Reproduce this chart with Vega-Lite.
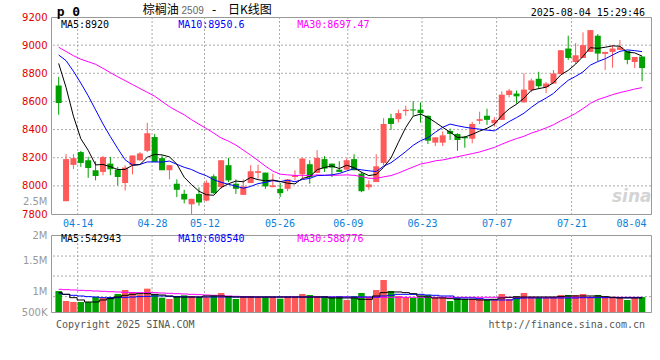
{
  "$schema": "https://vega.github.io/schema/vega-lite/v6.json",
  "background": "white",
  "padding": {"left": 20, "top": 3, "right": 0, "bottom": 0},
  "bounds": "flush",
  "spacing": 21,
  "config": {
    "view": {"stroke": "#999999", "strokeWidth": 1},
    "axis": {"domain": false, "ticks": false, "grid": false}
  },
  "datasets": {
    "kd": [
      {"d":"04-09","k":0,"o":8713,"h":8775,"l":8505,"c":8589,"v":909000,"m5":8870,"m10":8930,"m30":8985,"vm5":877000,"vm10":857000,"vm30":942000},
      {"d":"04-10","k":1,"o":7891,"h":8225,"l":7891,"c":8190,"v":714000,"m5":8700,"m10":8890,"m30":8955,"vm5":844000,"vm10":844000,"vm30":935000},
      {"d":"04-11","k":2,"o":8149,"h":8225,"l":8120,"c":8197,"v":695000,"m5":8495,"m10":8815,"m30":8925,"vm5":779000,"vm10":825000,"vm30":929000},
      {"d":"04-14","k":3,"o":8240,"h":8249,"l":8135,"c":8163,"v":695000,"m5":8335,"m10":8730,"m30":8900,"vm5":734000,"vm10":812000,"vm30":922000},
      {"d":"04-15","k":4,"o":8182,"h":8206,"l":8056,"c":8127,"v":695000,"m5":8253,"m10":8640,"m30":8882,"vm5":695000,"vm10":799000,"vm30":916000},
      {"d":"04-16","k":5,"o":8111,"h":8175,"l":8039,"c":8070,"v":792000,"m5":8149,"m10":8540,"m30":8864,"vm5":695000,"vm10":792000,"vm30":909000},
      {"d":"04-17","k":6,"o":8099,"h":8213,"l":8075,"c":8204,"v":779000,"m5":8152,"m10":8440,"m30":8835,"vm5":734000,"vm10":779000,"vm30":903000},
      {"d":"04-18","k":7,"o":8158,"h":8206,"l":8075,"c":8118,"v":792000,"m5":8136,"m10":8350,"m30":8805,"vm5":760000,"vm10":779000,"vm30":896000},
      {"d":"04-21","k":8,"o":8115,"h":8135,"l":8003,"c":8063,"v":851000,"m5":8116,"m10":8265,"m30":8775,"vm5":792000,"vm10":779000,"vm30":890000},
      {"d":"04-22","k":9,"o":8020,"h":8147,"l":7967,"c":8130,"v":929000,"m5":8117,"m10":8185,"m30":8748,"vm5":825000,"vm10":786000,"vm30":883000},
      {"d":"04-23","k":10,"o":8147,"h":8216,"l":8082,"c":8216,"v":890000,"m5":8146,"m10":8148,"m30":8720,"vm5":844000,"vm10":792000,"vm30":877000},
      {"d":"04-24","k":11,"o":8182,"h":8240,"l":8178,"c":8230,"v":844000,"m5":8151,"m10":8152,"m30":8692,"vm5":857000,"vm10":799000,"vm30":877000},
      {"d":"04-25","k":12,"o":8249,"h":8448,"l":8240,"c":8374,"v":955000,"m5":8203,"m10":8170,"m30":8665,"vm5":857000,"vm10":805000,"vm30":877000},
      {"d":"04-28","k":13,"o":8347,"h":8369,"l":8170,"c":8170,"v":844000,"m5":8224,"m10":8170,"m30":8637,"vm5":844000,"vm10":812000,"vm30":877000},
      {"d":"04-29","k":14,"o":8197,"h":8216,"l":8111,"c":8111,"v":779000,"m5":8220,"m10":8169,"m30":8600,"vm5":831000,"vm10":812000,"vm30":870000},
      {"d":"04-30","k":15,"o":8111,"h":8147,"l":8046,"c":8147,"v":753000,"m5":8206,"m10":8176,"m30":8563,"vm5":812000,"vm10":805000,"vm30":864000},
      {"d":"05-06","k":16,"o":8015,"h":8046,"l":7920,"c":7972,"v":812000,"m5":8155,"m10":8153,"m30":8533,"vm5":792000,"vm10":799000,"vm30":857000},
      {"d":"05-07","k":17,"o":7943,"h":7972,"l":7876,"c":7903,"v":825000,"m5":8061,"m10":8132,"m30":8505,"vm5":792000,"vm10":792000,"vm30":851000},
      {"d":"05-08","k":18,"o":7869,"h":7908,"l":7800,"c":7908,"v":812000,"m5":8008,"m10":8116,"m30":8470,"vm5":792000,"vm10":792000,"vm30":844000},
      {"d":"05-09","k":19,"o":7942,"h":7989,"l":7859,"c":7882,"v":792000,"m5":7962,"m10":8091,"m30":8438,"vm5":792000,"vm10":792000,"vm30":838000},
      {"d":"05-12","k":20,"o":7895,"h":8040,"l":7890,"c":8022,"v":792000,"m5":7937,"m10":8072,"m30":8408,"vm5":812000,"vm10":792000,"vm30":831000},
      {"d":"05-13","k":21,"o":8068,"h":8082,"l":7943,"c":7948,"v":831000,"m5":7933,"m10":8044,"m30":8375,"vm5":812000,"vm10":792000,"vm30":825000},
      {"d":"05-14","k":22,"o":7991,"h":8182,"l":7979,"c":8182,"v":870000,"m5":7988,"m10":8025,"m30":8340,"vm5":812000,"vm10":792000,"vm30":818000},
      {"d":"05-15","k":23,"o":8147,"h":8199,"l":8027,"c":8039,"v":792000,"m5":8015,"m10":8011,"m30":8318,"vm5":799000,"vm10":792000,"vm30":812000},
      {"d":"05-16","k":24,"o":8015,"h":8046,"l":7943,"c":7979,"v":753000,"m5":8034,"m10":7998,"m30":8290,"vm5":792000,"vm10":792000,"vm30":805000},
      {"d":"05-19","k":25,"o":7936,"h":8046,"l":7936,"c":7996,"v":792000,"m5":8029,"m10":7983,"m30":8254,"vm5":792000,"vm10":792000,"vm30":799000},
      {"d":"05-20","k":26,"o":8020,"h":8147,"l":8020,"c":8104,"v":812000,"m5":8060,"m10":7996,"m30":8218,"vm5":792000,"vm10":792000,"vm30":792000},
      {"d":"05-21","k":27,"o":8092,"h":8151,"l":8051,"c":8104,"v":792000,"m5":8044,"m10":8016,"m30":8180,"vm5":792000,"vm10":792000,"vm30":792000},
      {"d":"05-22","k":28,"o":8094,"h":8094,"l":7979,"c":7996,"v":792000,"m5":8036,"m10":8025,"m30":8140,"vm5":792000,"vm10":792000,"vm30":792000},
      {"d":"05-23","k":29,"o":7991,"h":8087,"l":7991,"c":8003,"v":792000,"m5":8041,"m10":8037,"m30":8105,"vm5":792000,"vm10":792000,"vm30":792000},
      {"d":"05-26","k":30,"o":7979,"h":8020,"l":7920,"c":7948,"v":760000,"m5":8031,"m10":8030,"m30":8083,"vm5":792000,"vm10":792000,"vm30":792000},
      {"d":"05-27","k":31,"o":7979,"h":8046,"l":7962,"c":8046,"v":792000,"m5":8019,"m10":8040,"m30":8078,"vm5":792000,"vm10":792000,"vm30":792000},
      {"d":"05-28","k":32,"o":8063,"h":8111,"l":8039,"c":8075,"v":792000,"m5":8014,"m10":8029,"m30":8074,"vm5":792000,"vm10":792000,"vm30":792000},
      {"d":"05-29","k":33,"o":8082,"h":8199,"l":8051,"c":8194,"v":851000,"m5":8053,"m10":8045,"m30":8075,"vm5":792000,"vm10":792000,"vm30":792000},
      {"d":"05-30","k":34,"o":8154,"h":8182,"l":8015,"c":8063,"v":831000,"m5":8065,"m10":8053,"m30":8073,"vm5":792000,"vm10":792000,"vm30":792000},
      {"d":"06-03","k":35,"o":8092,"h":8254,"l":8092,"c":8199,"v":812000,"m5":8115,"m10":8073,"m30":8078,"vm5":792000,"vm10":792000,"vm30":792000},
      {"d":"06-04","k":36,"o":8190,"h":8211,"l":8099,"c":8123,"v":812000,"m5":8131,"m10":8075,"m30":8075,"vm5":792000,"vm10":792000,"vm30":792000},
      {"d":"06-05","k":37,"o":8158,"h":8158,"l":8063,"c":8130,"v":792000,"m5":8142,"m10":8078,"m30":8075,"vm5":773000,"vm10":792000,"vm30":792000},
      {"d":"06-06","k":38,"o":8115,"h":8175,"l":8099,"c":8099,"v":812000,"m5":8123,"m10":8088,"m30":8076,"vm5":773000,"vm10":792000,"vm30":792000},
      {"d":"06-09","k":39,"o":8115,"h":8194,"l":8115,"c":8182,"v":734000,"m5":8147,"m10":8106,"m30":8078,"vm5":773000,"vm10":792000,"vm30":792000},
      {"d":"06-10","k":40,"o":8190,"h":8225,"l":8111,"c":8111,"v":812000,"m5":8129,"m10":8122,"m30":8075,"vm5":773000,"vm10":792000,"vm30":786000},
      {"d":"06-11","k":41,"o":8087,"h":8099,"l":7955,"c":7962,"v":870000,"m5":8097,"m10":8114,"m30":8066,"vm5":747000,"vm10":792000,"vm30":786000},
      {"d":"06-12","k":42,"o":7991,"h":8039,"l":7972,"c":8010,"v":792000,"m5":8073,"m10":8107,"m30":8054,"vm5":747000,"vm10":792000,"vm30":786000},
      {"d":"06-13","k":43,"o":8027,"h":8225,"l":8027,"c":8139,"v":929000,"m5":8081,"m10":8102,"m30":8053,"vm5":812000,"vm10":792000,"vm30":786000},
      {"d":"06-16","k":44,"o":8163,"h":8481,"l":8147,"c":8440,"v":1123000,"m5":8132,"m10":8140,"m30":8064,"vm5":877000,"vm10":812000,"vm30":786000},
      {"d":"06-17","k":45,"o":8481,"h":8512,"l":8398,"c":8440,"v":909000,"m5":8198,"m10":8164,"m30":8073,"vm5":890000,"vm10":825000,"vm30":786000},
      {"d":"06-18","k":46,"o":8474,"h":8541,"l":8450,"c":8517,"v":812000,"m5":8309,"m10":8203,"m30":8091,"vm5":890000,"vm10":844000,"vm30":786000},
      {"d":"06-19","k":47,"o":8531,"h":8570,"l":8498,"c":8541,"v":792000,"m5":8415,"m10":8244,"m30":8113,"vm5":877000,"vm10":844000,"vm30":786000},
      {"d":"06-20","k":48,"o":8543,"h":8601,"l":8498,"c":8536,"v":773000,"m5":8495,"m10":8288,"m30":8134,"vm5":857000,"vm10":844000,"vm30":786000},
      {"d":"06-23","k":49,"o":8541,"h":8593,"l":8450,"c":8517,"v":812000,"m5":8510,"m10":8321,"m30":8155,"vm5":812000,"vm10":844000,"vm30":786000},
      {"d":"06-24","k":50,"o":8498,"h":8500,"l":8297,"c":8321,"v":831000,"m5":8486,"m10":8342,"m30":8165,"vm5":792000,"vm10":831000,"vm30":786000},
      {"d":"06-25","k":51,"o":8307,"h":8345,"l":8283,"c":8345,"v":773000,"m5":8452,"m10":8381,"m30":8178,"vm5":773000,"vm10":825000,"vm30":786000},
      {"d":"06-26","k":52,"o":8307,"h":8386,"l":8283,"c":8359,"v":792000,"m5":8416,"m10":8416,"m30":8184,"vm5":773000,"vm10":812000,"vm30":786000},
      {"d":"06-27","k":53,"o":8390,"h":8407,"l":8326,"c":8369,"v":714000,"m5":8382,"m10":8439,"m30":8195,"vm5":760000,"vm10":812000,"vm30":786000},
      {"d":"06-30","k":54,"o":8369,"h":8374,"l":8249,"c":8326,"v":773000,"m5":8344,"m10":8427,"m30":8207,"vm5":747000,"vm10":773000,"vm30":786000},
      {"d":"07-01","k":55,"o":8347,"h":8354,"l":8271,"c":8338,"v":753000,"m5":8347,"m10":8417,"m30":8218,"vm5":747000,"vm10":773000,"vm30":786000},
      {"d":"07-02","k":56,"o":8335,"h":8455,"l":8302,"c":8440,"v":753000,"m5":8366,"m10":8409,"m30":8229,"vm5":747000,"vm10":773000,"vm30":786000},
      {"d":"07-03","k":57,"o":8462,"h":8527,"l":8440,"c":8474,"v":753000,"m5":8389,"m10":8403,"m30":8241,"vm5":734000,"vm10":760000,"vm30":786000},
      {"d":"07-04","k":58,"o":8498,"h":8548,"l":8433,"c":8469,"v":734000,"m5":8409,"m10":8396,"m30":8257,"vm5":734000,"vm10":747000,"vm30":786000},
      {"d":"07-07","k":59,"o":8445,"h":8488,"l":8421,"c":8469,"v":734000,"m5":8438,"m10":8391,"m30":8273,"vm5":747000,"vm10":734000,"vm30":786000},
      {"d":"07-08","k":60,"o":8469,"h":8672,"l":8469,"c":8648,"v":851000,"m5":8500,"m10":8424,"m30":8296,"vm5":773000,"vm10":734000,"vm30":786000},
      {"d":"07-09","k":61,"o":8646,"h":8689,"l":8629,"c":8677,"v":753000,"m5":8547,"m10":8457,"m30":8317,"vm5":786000,"vm10":734000,"vm30":786000},
      {"d":"07-10","k":62,"o":8656,"h":8677,"l":8584,"c":8636,"v":812000,"m5":8580,"m10":8485,"m30":8336,"vm5":792000,"vm10":760000,"vm30":786000},
      {"d":"07-11","k":63,"o":8593,"h":8799,"l":8593,"c":8684,"v":870000,"m5":8623,"m10":8516,"m30":8352,"vm5":792000,"vm10":773000,"vm30":786000},
      {"d":"07-14","k":64,"o":8680,"h":8763,"l":8665,"c":8749,"v":792000,"m5":8679,"m10":8558,"m30":8375,"vm5":792000,"vm10":773000,"vm30":786000},
      {"d":"07-15","k":65,"o":8761,"h":8811,"l":8689,"c":8708,"v":773000,"m5":8691,"m10":8595,"m30":8392,"vm5":792000,"vm10":773000,"vm30":786000},
      {"d":"07-16","k":66,"o":8701,"h":8737,"l":8660,"c":8727,"v":773000,"m5":8701,"m10":8624,"m30":8412,"vm5":792000,"vm10":773000,"vm30":786000},
      {"d":"07-17","k":67,"o":8727,"h":8823,"l":8727,"c":8799,"v":792000,"m5":8733,"m10":8657,"m30":8434,"vm5":792000,"vm10":773000,"vm30":786000},
      {"d":"07-18","k":68,"o":8794,"h":8964,"l":8794,"c":8964,"v":831000,"m5":8789,"m10":8706,"m30":8463,"vm5":799000,"vm10":773000,"vm30":786000},
      {"d":"07-21","k":69,"o":8976,"h":9067,"l":8895,"c":8909,"v":831000,"m5":8821,"m10":8750,"m30":8487,"vm5":812000,"vm10":773000,"vm30":786000},
      {"d":"07-22","k":70,"o":8880,"h":9014,"l":8868,"c":8928,"v":831000,"m5":8865,"m10":8778,"m30":8515,"vm5":812000,"vm10":773000,"vm30":786000},
      {"d":"07-23","k":71,"o":8909,"h":9091,"l":8909,"c":9000,"v":851000,"m5":8920,"m10":8810,"m30":8549,"vm5":812000,"vm10":779000,"vm30":786000},
      {"d":"07-24","k":72,"o":8952,"h":9107,"l":8952,"c":9107,"v":792000,"m5":8982,"m10":8858,"m30":8586,"vm5":812000,"vm10":779000,"vm30":786000},
      {"d":"07-25","k":73,"o":9067,"h":9079,"l":8887,"c":8940,"v":831000,"m5":8977,"m10":8883,"m30":8613,"vm5":812000,"vm10":779000,"vm30":786000},
      {"d":"07-28","k":74,"o":8938,"h":8952,"l":8823,"c":8952,"v":792000,"m5":8985,"m10":8903,"m30":8630,"vm5":799000,"vm10":779000,"vm30":786000},
      {"d":"07-29","k":75,"o":8952,"h":9000,"l":8840,"c":8976,"v":792000,"m5":8995,"m10":8930,"m30":8648,"vm5":786000,"vm10":779000,"vm30":786000},
      {"d":"07-30","k":76,"o":8966,"h":9036,"l":8966,"c":8985,"v":773000,"m5":8992,"m10":8956,"m30":8663,"vm5":773000,"vm10":779000,"vm30":786000},
      {"d":"07-31","k":77,"o":8959,"h":8959,"l":8864,"c":8895,"v":734000,"m5":8950,"m10":8966,"m30":8675,"vm5":773000,"vm10":779000,"vm30":786000},
      {"d":"08-01","k":78,"o":8880,"h":8916,"l":8837,"c":8916,"v":773000,"m5":8945,"m10":8961,"m30":8688,"vm5":773000,"vm10":779000,"vm30":786000},
      {"d":"08-04","k":79,"o":8919,"h":8919,"l":8744,"c":8837,"v":792000,"m5":8922,"m10":8954,"m30":8698,"vm5":773000,"vm10":779000,"vm30":786000}
    ],
    "xg": [{"x": 2.57}, {"x": 12.65}, {"x": 19.75}, {"x": 29.9}, {"x": 39.15}, {"x": 49.2}, {"x": 59.3}, {"x": 69.45}],
    "yg": [{"y": 8000}, {"y": 8200}, {"y": 8400}, {"y": 8600}, {"y": 8800}, {"y": 9000}],
    "vgrid": [{"g": 800000}, {"g": 1200000}, {"g": 1590000}]
  },
  "vconcat": [
    {
      "width": 600,
      "height": 197,
      "resolve": {"axis": {"x": "independent", "y": "independent"}},
      "layer": [
        {
          "data": {"name": "xg"},
          "mark": {"type": "rule", "strokeDash": [2, 2], "color": "#aaaaaa", "strokeWidth": 1},
          "encoding": {
            "x": {"field": "x", "type": "quantitative", "scale": {"domain": [-0.36, 79.53], "nice": false, "zero": false},
              "axis": {"values": [2.57, 12.65, 19.75, 29.9, 39.15, 49.2, 59.3, 69.45, 79.53],
                "labelExpr": "datum.value < 5 ? '04-14' : datum.value < 15 ? '04-28' : datum.value < 25 ? '05-12' : datum.value < 35 ? '05-26' : datum.value < 45 ? '06-09' : datum.value < 55 ? '06-23' : datum.value < 65 ? '07-07' : datum.value < 75 ? '07-21' : '08-04'",
                "labelAlign": {"condition": {"test": "datum.value > 79", "value": "right"}, "value": "center"},
                "title": null, "grid": false, "labelColor": "#0c80d8",
                "labelFont": "DejaVu Sans Mono", "labelFontSize": 10, "labelPadding": 4, "labelOverlap": false, "labelBound": false}}
          }
        },
        {
          "data": {"name": "yg"},
          "mark": {"type": "rule", "strokeDash": [2, 2], "color": "#aaaaaa", "strokeWidth": 1},
          "encoding": {
            "y": {"field": "y", "type": "quantitative", "scale": {"domain": [7800, 9200], "nice": false, "zero": false},
              "axis": {"values": [7800, 7890, 8000, 8200, 8400, 8600, 8800, 9000, 9200], "format": "d",
                "labelExpr": "datum.value == 7890 ? '2.5M' : datum.label",
                "title": null, "grid": false,
                "labelColor": {"condition": {"test": "datum.value == 7890", "value": "#999999"}, "value": "#e00000"},
                "labelFont": "DejaVu Sans", "labelFontSize": 10, "labelPadding": 4, "labelOverlap": false, "labelBound": false}}
          }
        },
        {
          "data": {"name": "kd"},
          "mark": {"type": "rule", "strokeWidth": 1},
          "encoding": {
            "x": {"field": "k", "type": "quantitative", "axis": null},
            "y": {"field": "l", "type": "quantitative", "axis": null},
            "y2": {"field": "h"},
            "color": {"condition": {"test": "datum.c >= datum.o", "value": "#ff5a5a"}, "value": "#00a000"}
          }
        },
        {
          "data": {"name": "kd"},
          "mark": {"type": "bar", "width": 6},
          "encoding": {
            "x": {"field": "k", "type": "quantitative", "axis": null},
            "y": {"field": "o", "type": "quantitative", "axis": null},
            "y2": {"field": "c"},
            "color": {"condition": {"test": "datum.c >= datum.o", "value": "#ff5a5a"}, "value": "#00a000"}
          }
        },
        {
          "data": {"name": "kd"},
          "mark": {"type": "line", "color": "#ff00ff", "strokeWidth": 1},
          "encoding": {"x": {"field": "k", "type": "quantitative", "axis": null}, "y": {"field": "m30", "type": "quantitative", "axis": null}}
        },
        {
          "data": {"name": "kd"},
          "mark": {"type": "line", "color": "#0000ff", "strokeWidth": 1},
          "encoding": {"x": {"field": "k", "type": "quantitative", "axis": null}, "y": {"field": "m10", "type": "quantitative", "axis": null}}
        },
        {
          "data": {"name": "kd"},
          "mark": {"type": "line", "color": "#000000", "strokeWidth": 1},
          "encoding": {"x": {"field": "k", "type": "quantitative", "axis": null}, "y": {"field": "m5", "type": "quantitative", "axis": null}}
        },
        {
          "data": {"values": [{}]},
          "mark": {"type": "text", "text": "MA5:8920", "align": "left", "baseline": "middle", "font": "DejaVu Sans Mono", "fontSize": 10, "color": "#000000"},
          "encoding": {"x": {"datum": 0.31, "type": "quantitative", "axis": null}, "y": {"datum": 9143, "type": "quantitative", "axis": null}}
        },
        {
          "data": {"values": [{}]},
          "mark": {"type": "text", "text": "MA10:8950.6", "align": "left", "baseline": "middle", "font": "DejaVu Sans Mono", "fontSize": 10, "color": "#0000ff"},
          "encoding": {"x": {"datum": 16.19, "type": "quantitative", "axis": null}, "y": {"datum": 9143, "type": "quantitative", "axis": null}}
        },
        {
          "data": {"values": [{}]},
          "mark": {"type": "text", "text": "MA30:8697.47", "align": "left", "baseline": "middle", "font": "DejaVu Sans Mono", "fontSize": 10, "color": "#ff00ff"},
          "encoding": {"x": {"datum": 32.3, "type": "quantitative", "axis": null}, "y": {"datum": 9143, "type": "quantitative", "axis": null}}
        },
        {
          "data": {"values": [{}]},
          "mark": {"type": "text", "text": "p 0", "align": "left", "baseline": "middle", "font": "DejaVu Sans Mono", "fontSize": 13, "fontWeight": "bold", "color": "#000000"},
          "encoding": {"x": {"datum": -0.27, "type": "quantitative", "axis": null}, "y": {"datum": 9236, "type": "quantitative", "axis": null}}
        },
        {
          "data": {"values": [{}]},
          "mark": {"type": "text", "text": "棕榈油", "align": "left", "baseline": "middle", "font": "Noto Sans CJK SC", "fontSize": 12, "color": "#000000"},
          "encoding": {"x": {"datum": 11.4, "type": "quantitative", "axis": null}, "y": {"datum": 9248, "type": "quantitative", "axis": null}}
        },
        {
          "data": {"values": [{}]},
          "mark": {"type": "text", "text": "2509", "align": "left", "baseline": "middle", "font": "Liberation Sans", "fontSize": 10, "color": "#666666"},
          "encoding": {"x": {"datum": 16.64, "type": "quantitative", "axis": null}, "y": {"datum": 9246, "type": "quantitative", "axis": null}}
        },
        {
          "data": {"values": [{}]},
          "mark": {"type": "text", "text": "-", "align": "left", "baseline": "middle", "font": "DejaVu Sans Mono", "fontSize": 12, "color": "#000000"},
          "encoding": {"x": {"datum": 20.55, "type": "quantitative", "axis": null}, "y": {"datum": 9248, "type": "quantitative", "axis": null}}
        },
        {
          "data": {"values": [{}]},
          "mark": {"type": "text", "text": "日K线图", "align": "left", "baseline": "middle", "font": "Noto Sans CJK SC", "fontSize": 12, "color": "#000000"},
          "encoding": {"x": {"datum": 22.94, "type": "quantitative", "axis": null}, "y": {"datum": 9248, "type": "quantitative", "axis": null}}
        },
        {
          "data": {"values": [{}]},
          "mark": {"type": "text", "text": "2025-08-04 15:29:46", "align": "right", "baseline": "middle", "font": "DejaVu Sans Mono", "fontSize": 10, "color": "#000000"},
          "encoding": {"x": {"datum": 79.4, "type": "quantitative", "axis": null}, "y": {"datum": 9226, "type": "quantitative", "axis": null}}
        },
        {
          "data": {"values": [{}]},
          "mark": {"type": "text", "text": "sina", "align": "center", "baseline": "middle", "font": "DejaVu Sans", "fontSize": 17, "fontStyle": "italic", "fontWeight": "bold", "color": "#d4d4d4"},
          "encoding": {"x": {"datum": 77.6, "type": "quantitative", "axis": null}, "y": {"datum": 7918, "type": "quantitative", "axis": null}}
        }
      ]
    },
    {
      "width": 600,
      "height": 77,
      "resolve": {"axis": {"x": "independent", "y": "independent"}},
      "layer": [
        {
          "data": {"name": "xg"},
          "mark": {"type": "rule", "strokeDash": [2, 2], "color": "#aaaaaa", "strokeWidth": 1},
          "encoding": {
            "x": {"field": "x", "type": "quantitative", "scale": {"domain": [-0.36, 79.53], "nice": false, "zero": false}, "axis": null}
          }
        },
        {
          "data": {"name": "vgrid"},
          "mark": {"type": "rule", "strokeDash": [2, 2], "color": "#aaaaaa", "strokeWidth": 1},
          "encoding": {
            "y": {"field": "g", "type": "quantitative", "scale": {"domain": [500000, 2000000], "nice": false, "zero": false},
              "axis": {"values": [500000, 890000, 1500000, 2000000],
                "labelExpr": "datum.value == 500000 ? '500K' : datum.value == 890000 ? '1M' : datum.value == 1500000 ? '1.5M' : '2M'",
                "title": null, "grid": false, "labelColor": "#999999", "labelFont": "DejaVu Sans", "labelFontSize": 10, "labelPadding": 4, "labelOverlap": false, "labelBound": false}}
          }
        },
        {
          "data": {"name": "kd"},
          "mark": {"type": "bar", "width": 6.5},
          "encoding": {
            "x": {"field": "k", "type": "quantitative", "axis": null},
            "y": {"field": "v", "type": "quantitative", "axis": null},
            "y2": {"datum": 500000},
            "color": {"condition": {"test": "datum.c >= datum.o", "value": "#ff5a5a"}, "value": "#00a000"}
          }
        },
        {
          "data": {"name": "kd"},
          "mark": {"type": "line", "color": "#ff00ff", "strokeWidth": 1, "interpolate": "step"},
          "encoding": {"x": {"field": "k", "type": "quantitative", "axis": null}, "y": {"field": "vm30", "type": "quantitative", "axis": null}}
        },
        {
          "data": {"name": "kd"},
          "mark": {"type": "line", "color": "#0000ff", "strokeWidth": 1, "interpolate": "step"},
          "encoding": {"x": {"field": "k", "type": "quantitative", "axis": null}, "y": {"field": "vm10", "type": "quantitative", "axis": null}}
        },
        {
          "data": {"name": "kd"},
          "mark": {"type": "line", "color": "#000000", "strokeWidth": 1, "interpolate": "step"},
          "encoding": {"x": {"field": "k", "type": "quantitative", "axis": null}, "y": {"field": "vm5", "type": "quantitative", "axis": null}}
        },
        {
          "data": {"values": [{}]},
          "mark": {"type": "text", "text": "MA5:542943", "align": "left", "baseline": "middle", "font": "DejaVu Sans Mono", "fontSize": 10, "color": "#000000"},
          "encoding": {"x": {"datum": 0.31, "type": "quantitative", "axis": null}, "y": {"datum": 1916000, "type": "quantitative", "axis": null}}
        },
        {
          "data": {"values": [{}]},
          "mark": {"type": "text", "text": "MA10:608540", "align": "left", "baseline": "middle", "font": "DejaVu Sans Mono", "fontSize": 10, "color": "#0000ff"},
          "encoding": {"x": {"datum": 16.19, "type": "quantitative", "axis": null}, "y": {"datum": 1916000, "type": "quantitative", "axis": null}}
        },
        {
          "data": {"values": [{}]},
          "mark": {"type": "text", "text": "MA30:588776", "align": "left", "baseline": "middle", "font": "DejaVu Sans Mono", "fontSize": 10, "color": "#ff00ff"},
          "encoding": {"x": {"datum": 32.3, "type": "quantitative", "axis": null}, "y": {"datum": 1916000, "type": "quantitative", "axis": null}}
        },
        {
          "data": {"values": [{}]},
          "mark": {"type": "text", "text": "Copyright 2025 SINA.COM", "align": "left", "baseline": "middle", "font": "DejaVu Sans Mono", "fontSize": 10, "color": "#555555"},
          "encoding": {"x": {"datum": -0.36, "type": "quantitative", "axis": null}, "y": {"datum": 252600, "type": "quantitative", "axis": null}}
        },
        {
          "data": {"values": [{}]},
          "mark": {"type": "text", "text": "http://finance.sina.com.cn", "align": "right", "baseline": "middle", "font": "DejaVu Sans Mono", "fontSize": 10, "color": "#555555"},
          "encoding": {"x": {"datum": 79.4, "type": "quantitative", "axis": null}, "y": {"datum": 252600, "type": "quantitative", "axis": null}}
        }
      ]
    }
  ]
}
